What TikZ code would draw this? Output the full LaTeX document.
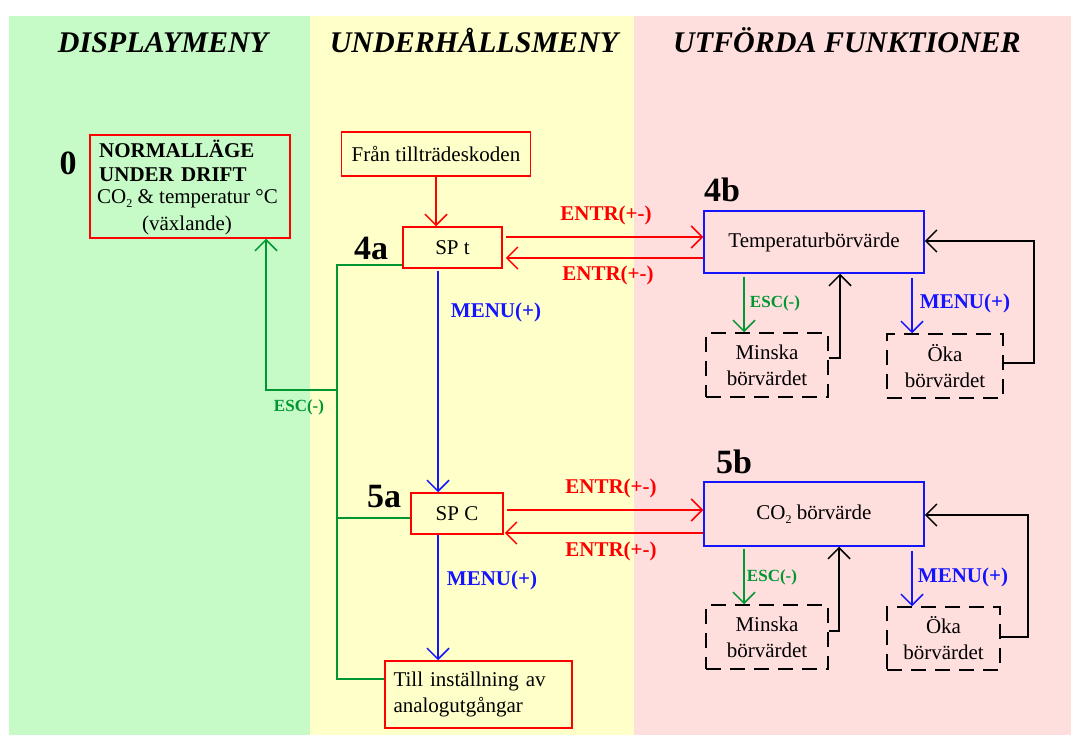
\documentclass[tikz,border=0pt]{standalone}
\usepackage{fontspec}
\setmainfont{Liberation Serif}
\usetikzlibrary{arrows.meta}
\definecolor{bggreen}{RGB}{198,250,198}
\definecolor{bgyellow}{RGB}{255,255,202}
\definecolor{bgpink}{RGB}{255,222,222}
\definecolor{cred}{RGB}{255,0,0}
\definecolor{cblue}{RGB}{20,20,255}
\definecolor{cgreen}{RGB}{0,150,50}
\newcommand\cotwo{CO\raisebox{-0.4ex}{\fontsize{12}{12}\selectfont 2}}
\begin{document}
\begin{tikzpicture}[x=1pt,y=-1pt,
  hdr/.style={font=\fontsize{30}{30}\selectfont\bfseries\itshape, anchor=base, inner sep=0pt},
  num/.style={font=\fontsize{34}{34}\selectfont\bfseries, inner sep=0pt},
  txt/.style={font=\fontsize{21}{26}\selectfont, inner sep=0pt},
  btxt/.style={font=\fontsize{21}{26}\selectfont\bfseries, inner sep=0pt},
  redbox/.style={draw=cred, line width=1.5pt, inner sep=0pt, font=\fontsize{21}{26}\selectfont, align=center},
  bluebox/.style={draw=cblue, line width=1.5pt, inner sep=0pt, font=\fontsize{21}{26}\selectfont, align=center},
  dbox/.style={draw=black, line width=1.5pt, dash pattern=on 15pt off 9pt, inner sep=0pt, font=\fontsize{21}{26}\selectfont, align=center},
  arr/.style={-{Straight Barb[length=11pt,width=22pt]}},
  rline/.style={draw=cred, line width=1.5pt},
  bline/.style={draw=cblue, line width=1.5pt},
  gline/.style={draw=cgreen, line width=1.5pt},
  kline/.style={draw=black, line width=1.5pt},
  entr/.style={text=cred, font=\fontsize{21}{21}\selectfont\bfseries, inner sep=0pt},
  menu/.style={text=cblue, font=\fontsize{21}{21}\selectfont\bfseries, inner sep=0pt},
  esc/.style={text=cgreen, font=\fontsize{17}{17}\selectfont\bfseries, inner sep=0pt}
]
\useasboundingbox (0,0) rectangle (1071,735);
\fill[white] (0,0) rectangle (1071,735);
\fill[bggreen] (9,16) rectangle (310,735);
\fill[bgyellow] (310,16) rectangle (634,735);
\fill[bgpink] (634,16) rectangle (1071,735);

% headers
\node[hdr] (h1) at (163,53) {DISPLAYMENY};
\node[hdr] (h2) at (474,53) {UNDERHÅLLSMENY};
\node[hdr] (h3) at (847,53) {UTFÖRDA FUNKTIONER};

% box 0
\node[redbox, minimum width=200pt, minimum height=103pt] (box0) at (190,186.5) {};
\node[btxt, anchor=west] (t0a) at (99,149) {NORMALLÄGE};
\node[btxt, anchor=west] (t0b) at (99,175) {UNDER\hspace{0.35em}DRIFT};
\node[txt] (t0c) at (187.5,199) {\cotwo\ \& temperatur °C};
\node[txt] (t0d) at (187,225) {(växlande)};
\node[num] (n0) at (68,163) {0};

% middle column
\node[redbox, minimum width=189pt, minimum height=44pt] (fran) at (436,154) {Från tillträdeskoden};
\node[redbox, minimum width=99pt, minimum height=41pt] (SPt) at (452.5,247.5) {SP t};
\node[redbox, minimum width=92pt, minimum height=41pt] (SPC) at (457,513.5) {SP C};
\node[redbox, minimum width=187pt, minimum height=67pt, align=left, text width=170pt] (till) at (478.5,694.5) {Till inställning av\\analogutgångar};
\node[num] (n4a) at (371,248) {4a};
\node[num] (n5a) at (384,497) {5a};

% right column
\node[bluebox, minimum width=220pt, minimum height=62pt] (T4b) at (814,242) {Temperaturbörvärde};
\node[bluebox, minimum width=220pt, minimum height=64pt] (C5b) at (814,514) {\cotwo\ börvärde};
\node[num] (n4b) at (722,190) {4b};
\node[num] (n5b) at (734,462) {5b};
\node[dbox, minimum width=122pt, minimum height=64pt] (min4) at (767,365) {Minska\\börvärdet};
\node[dbox, minimum width=116pt, minimum height=64pt] (oka4) at (945,366) {Öka\\börvärdet};
\node[dbox, minimum width=122pt, minimum height=64pt] (min5) at (767,637) {Minska\\börvärdet};
\node[dbox, minimum width=113pt, minimum height=63pt] (oka5) at (943.5,638.5) {Öka\\börvärdet};

% red connectors
\draw[rline, arr] (fran.south) -- (fran.south |- SPt.north);
\coordinate (e1) at ([xshift=3pt,yshift=10.5pt]SPt.east);
\coordinate (e2) at ([xshift=3pt,yshift=-10.5pt]SPt.east);
\draw[rline, arr] (e1) -- (e1 -| T4b.west);
\draw[rline, arr] (e2 -| T4b.west) -- (e2);
\coordinate (e3) at ([xshift=3pt,yshift=3.5pt]SPC.east);
\coordinate (e4) at ([xshift=1pt,yshift=-19.5pt]SPC.east);
\draw[rline, arr] (e3) -- (e3 -| C5b.west);
\draw[rline, arr] (e4 -| C5b.west) -- (e4);
\node[entr] (l1) at (606,215) {ENTR(+-)};
\node[entr] (l2) at (608,275) {ENTR(+-)};
\node[entr] (l3) at (611,488) {ENTR(+-)};
\node[entr] (l4) at (611,551) {ENTR(+-)};

% blue connectors
\coordinate (b1) at ([xshift=-14.5pt,yshift=-2pt]SPt.south);
\draw[bline, arr] (b1) -- (b1 |- SPC.north);
\coordinate (b2) at ([xshift=-19pt]SPC.south);
\draw[bline, arr] (b2) -- (b2 |- till.north);
\node[menu] (m1) at (496,312) {MENU(+)};
\node[menu] (m2) at (492,580) {MENU(+)};

% green ESC tree
\coordinate (gtop) at (337,265);
\coordinate (gmid) at (337,390);
\coordinate (gleft) at (266,390);
\coordinate (gbot) at (337,679);
\coordinate (gc) at (337,518);
\draw[gline] (SPt.west |- gtop) -- (gtop) -- (gbot) -- (till.west |- gbot);
\draw[gline] (SPC.west |- gc) -- (gc);
\draw[gline, arr] (gmid) -- (gleft) -- (gleft |- box0.south);
\node[esc] (esc0) at (299,407) {ESC(-)};

% 4b sub
\coordinate (g4) at ([xshift=-70pt,yshift=-3pt]T4b.south);
\draw[gline, arr] (g4) -- (g4 |- min4.north);
\coordinate (u4) at ([xshift=98pt,yshift=-4pt]T4b.south);
\draw[bline, arr] (u4) -- (u4 |- oka4.north);
\node[esc] (esc4) at (775,303) {ESC(-)};
\node[menu] (m4) at (965,303) {MENU(+)};
\coordinate (k4) at (840,300);
\draw[kline, arr] ([yshift=7pt]min4.east) -| (k4 |- T4b.south);
\coordinate (r4) at (1034,300);
\coordinate (o4) at ([yshift=3pt]oka4.east);
\draw[kline, arr] (o4) -- (o4 -| r4) |- ([yshift=1pt]T4b.east);

% 5b sub
\coordinate (g5) at ([xshift=-70pt,yshift=-2pt]C5b.south);
\draw[gline, arr] (g5) -- (g5 |- min5.north);
\coordinate (u5) at ([xshift=98pt,yshift=-4pt]C5b.south);
\draw[bline, arr] (u5) -- (u5 |- oka5.north);
\node[esc] (esc5) at (772,577) {ESC(-)};
\node[menu] (m5) at (963,577) {MENU(+)};
\coordinate (k5) at (839,600);
\draw[kline, arr] ([yshift=6pt]min5.east) -| (k5 |- C5b.south);
\coordinate (r5) at (1028,600);
\coordinate (o5) at ([yshift=1.5pt]oka5.east);
\draw[kline, arr] (o5) -- (o5 -| r5) |- ([yshift=-1pt]C5b.east);
\end{tikzpicture}
\end{document}
